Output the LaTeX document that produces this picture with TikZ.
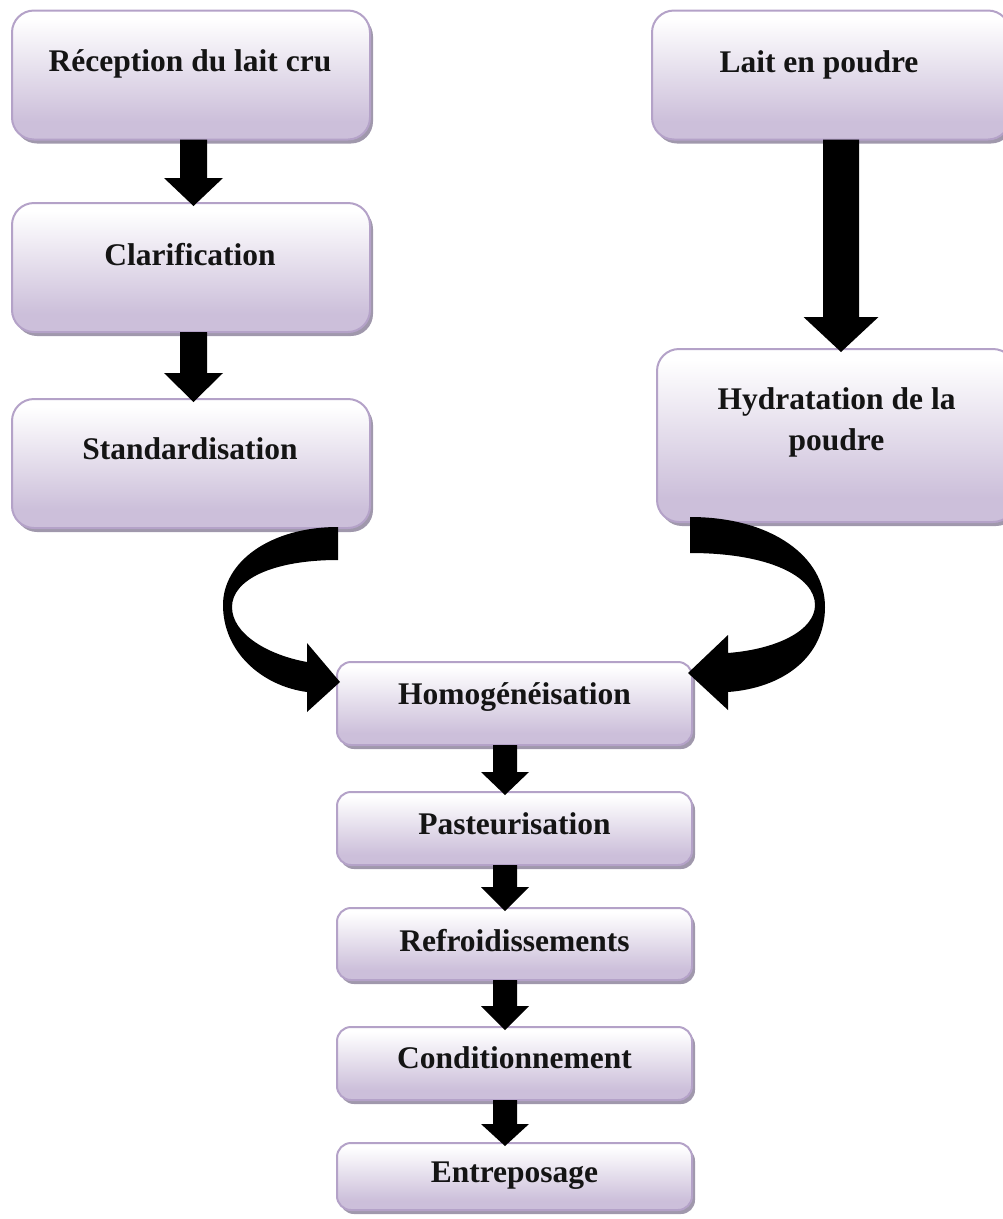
\documentclass[tikz,border=0pt]{standalone}
\usepackage{fontspec}
\setmainfont{Liberation Serif}
\usetikzlibrary{shadows,calc}
\definecolor{lavfill}{RGB}{204,191,218}
\definecolor{lavline}{RGB}{180,162,200}
\definecolor{shadowc}{RGB}{160,152,172}
\colorlet{lavmid}{lavfill!35!white}
\pgfdeclareverticalshading{boxshade}{100bp}{color(0bp)=(lavfill); color(25bp)=(lavfill); color(32bp)=(lavfill); color(58bp)=(lavmid); color(72bp)=(white); color(100bp)=(white)}
\newcommand\blockdown[6]{%
  \fill[black] let \p1=($(#1.south)+(#3,0)$), \p2=(#2.north) in
    (\x1-#4pt,\y1) -- (\x1+#4pt,\y1) -- (\x1+#4pt,\y2-3pt+#6pt) -- (\x1+#5pt,\y2-3pt+#6pt)
    -- (\x1,\y2-3pt) -- (\x1-#5pt,\y2-3pt+#6pt) -- (\x1-#4pt,\y2-3pt+#6pt) -- cycle;}
\tikzset{
  procbox/.style={draw=lavline, line width=2pt, rounded corners=#1, shading=boxshade,
    inner sep=0pt, outer sep=0pt,
    drop shadow={shadow xshift=3pt, shadow yshift=-4pt, fill=shadowc, opacity=1}},
  bigbox/.style={procbox=22pt, minimum width=358pt, minimum height=129pt},
  smallbox/.style={procbox=14pt, minimum width=355pt},
  lbl/.style={font=\fontsize{31.5}{41}\selectfont\bfseries, anchor=base, inner sep=0pt, text=black!92}
}
\begin{document}
\begin{tikzpicture}[x=1pt,y=-1pt]
\useasboundingbox (0,0) rectangle (1003,1219);
% boxes
\node[bigbox] (rec) at (191,75) {};
\node[bigbox] (clar) at (191,267.5) {};
\node[bigbox] (stand) at (191,463.5) {};
\node[bigbox] (lait) at (831,75) {};
\node[procbox=22pt, minimum width=358pt, minimum height=173pt] (hyd) at (836,435.5) {};
\node[smallbox, minimum height=83pt] (homo) at (514.5,703.5) {};
\node[smallbox, minimum height=73pt] (past) at (514.5,828.5) {};
\node[smallbox, minimum height=72pt] (refr) at (514.5,944) {};
\node[smallbox, minimum height=73pt] (cond) at (514.5,1063.5) {};
\node[smallbox, minimum height=67pt] (entr) at (514.5,1176.5) {};
% texts
\node[lbl] (trec) at (190,71) {Réception du lait cru};
\node[lbl] (tclar) at (190,265) {Clarification};
\node[lbl] (tstand) at (190,459) {Standardisation};
\node[lbl] (tlait) at (819,72) {Lait en poudre};
\node[lbl] (thyd1) at (836.5,409) {Hydratation de la};
\node[lbl] (thyd2) at (836.5,450) {poudre};
\node[lbl] (thomo) at (514.5,704) {Homogénéisation};
\node[lbl] (tpast) at (514.5,834) {Pasteurisation};
\node[lbl] (trefr) at (514.5,951) {Refroidissements};
\node[lbl] (tcond) at (514.5,1068) {Conditionnement};
\node[lbl] (tentr) at (514.5,1182) {Entreposage};
% straight block arrows
\blockdown{rec}{clar}{2.5}{13.5}{29.5}{28}
\blockdown{clar}{stand}{2.5}{13.5}{29.5}{29}
\blockdown{lait}{hyd}{10}{18}{37.5}{35}
\blockdown{homo}{past}{-9.5}{12}{24}{23}
\blockdown{past}{refr}{-9.5}{12}{24}{24}
\blockdown{refr}{cond}{-9.5}{12}{24}{24}
\blockdown{cond}{entr}{-9.5}{12}{24}{22}
% curved block arrows
\fill[black] (338,527) .. controls (270,527) and (223,562) .. (223,605)
  .. controls (223,652) and (262,686) .. (307,692) -- (307,712) -- (340,682) -- (307,643) -- (307,662)
  .. controls (268,655) and (232,634) .. (232,607)
  .. controls (232,580) and (272,560) .. (338,560) -- cycle;
\fill[black] (690,517) .. controls (772,517) and (825,557) .. (825,607)
  .. controls (825,657) and (783,688) .. (728,692) -- (728,710) -- (688,673) -- (728,635) -- (728,653)
  .. controls (778,649) and (815,630) .. (815,605)
  .. controls (815,577) and (770,553) .. (690,553) -- cycle;
\end{tikzpicture}
\end{document}
